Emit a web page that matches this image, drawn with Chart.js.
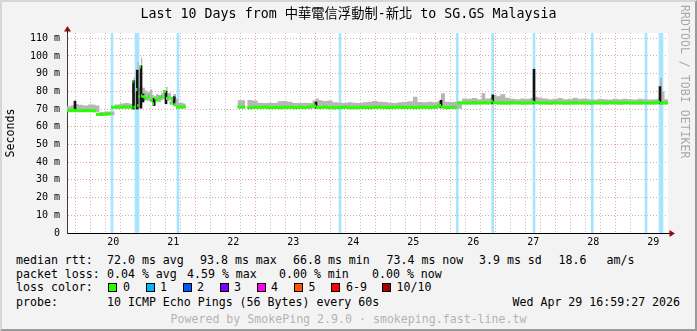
<!DOCTYPE html>
<html><head><meta charset="utf-8">
<script src="https://cdn.jsdelivr.net/npm/chart.js@4.4.1/dist/chart.umd.min.js"></script>
<style>
html,body{margin:0;padding:0;}
body{width:697px;height:331px;position:relative;overflow:hidden;background:#f3f3f3;font-family:'DejaVu Sans Mono',monospace;}
#frame{position:absolute;left:0;top:0;width:697px;height:331px;box-sizing:border-box;border-top:2px solid #d6d6d6;border-left:2px solid #d6d6d6;border-right:2px solid #9a9a9a;border-bottom:2px solid #9a9a9a;}
#wrap{position:absolute;left:0;top:0;width:697px;height:250px;}
.t{position:absolute;font-size:11.6px;line-height:14px;white-space:pre;color:#000;}
.box{position:absolute;top:283px;width:7px;height:7px;border:1px solid #000;}
#rrd{position:absolute;left:678px;top:5px;writing-mode:vertical-rl;font-size:11.6px;line-height:14px;color:#a8a8a8;white-space:pre;}
#ytitle{position:absolute;left:-30px;top:126px;width:80px;text-align:center;transform:rotate(-90deg);}
#foot{color:#b4b4b4;}
</style>
</head><body>
<div id="frame"></div>
<div id="wrap"><canvas id="c"></canvas></div>
<div id="rrd">RRDTOOL / TOBI OETIKER</div>
<div class="t" id="ytitle">Seconds</div>

<div class="t" style="left:16px;top:252.5px">median rtt:</div>
<div class="t" style="left:107px;top:252.5px">72.0 ms avg</div>
<div class="t" style="left:200px;top:252.5px">93.8 ms max</div>
<div class="t" style="left:293px;top:252.5px">66.8 ms min</div>
<div class="t" style="left:386.5px;top:252.5px">73.4 ms now</div>
<div class="t" style="left:479px;top:252.5px">3.9 ms sd</div>
<div class="t" style="left:558.5px;top:252.5px">18.6</div>
<div class="t" style="left:606.5px;top:252.5px">am/s</div>

<div class="t" style="left:16px;top:266.5px">packet loss:</div>
<div class="t" style="left:107px;top:266.5px">0.04 % avg</div>
<div class="t" style="left:187px;top:266.5px">4.59 % max</div>
<div class="t" style="left:279px;top:266.5px">0.00 % min</div>
<div class="t" style="left:372px;top:266.5px">0.00 % now</div>

<div class="t" style="left:16px;top:280px">loss color:</div>
<div class="box" style="left:108px;background:#26ff00"></div><div class="t" style="left:123px;top:280px">0</div>
<div class="box" style="left:145.5px;background:#00b8ff"></div><div class="t" style="left:160px;top:280px">1</div>
<div class="box" style="left:182.5px;background:#0059ff"></div><div class="t" style="left:197px;top:280px">2</div>
<div class="box" style="left:219.5px;background:#7e00ff"></div><div class="t" style="left:234px;top:280px">3</div>
<div class="box" style="left:256.5px;background:#ff00ea"></div><div class="t" style="left:271px;top:280px">4</div>
<div class="box" style="left:293.5px;background:#ff5500"></div><div class="t" style="left:308.5px;top:280px">5</div>
<div class="box" style="left:331px;background:#ff0000"></div><div class="t" style="left:346px;top:280px">6-9</div>
<div class="box" style="left:381.5px;background:#a10000"></div><div class="t" style="left:396.5px;top:280px">10/10</div>

<div class="t" style="left:16px;top:294.5px">probe:</div>
<div class="t" style="left:107px;top:294.5px">10 ICMP Echo Pings (56 Bytes) every 60s</div>
<div class="t" style="left:512.5px;top:294.5px">Wed Apr 29 16:59:27 2026</div>

<div class="t" id="foot" style="left:170.5px;top:311.5px">Powered by SmokePing 2.9.0 · smokeping.fast-line.tw</div>

<script>
// Hours counted from Apr 19 00:00 (local); each value covers the interval ending at its hour
const hours = [17.5,19.0,20.7,22.0,24.0,26.0,28.0,29.1,30.5,32.5,34.1,35.1,36.5,38.5,40.5,42.5,43.7,
  44.1,44.6,45.1,45.6,46.1,46.6,47.1,47.6,48.7,49.7,50.7,51.6,52.3,53.1,54.1,55.1,55.9,57.1,57.7,58.5,59.1,60.0,61.1,61.9,62.8,64.0,65.0,65.7,
  85.7,88.7,89.2,89.6,91.7,93.7,95.7,97.7,99.7,101.7,103.7,105.7,107.7,109.7,111.7,113.7,115.7,117.1,118.2,119.7,121.7,123.7,125.7,127.7,129.7,
  131.7,133.7,135.7,137.7,139.7,141.7,143.7,145.7,147.7,149.7,151.7,153.7,155.9,157.7,159.7,161.7,163.7,165.7,167.1,168.7,170.7,172.7,173.6,
  175.5,177.5,179.5,181.5,183.3,184.8,186.8,187.8,189.3,190.8,192.8,194.8,196.8,198.8,200.8,202.8,204.3,205.8,207.8,209.8,211.8,213.8,215.8,
  217.8,219.8,221.8,223.8,225.8,227.8,229.8,231.8,233.8,235.8,237.8,239.8,241.8,243.8,245.8,247.8,249.8,251.8,253.8,254.7,255.5,256.5,257.9];
const median = [69.2,69.0,69.4,69.0,69.0,69.2,69.0,69.0,67.0,67.0,67.2,67.3,71.0,71.2,71.0,71.2,71.0,
  85.5,71.0,71.2,81.0,72.0,77.0,93.8,77.5,77.0,76.0,77.2,75.0,73.0,76.2,75.2,76.5,77.0,80.0,76.0,76.5,73.5,76.0,72.5,71.0,71.5,71.0,71.3,null,
  71.0,71.2,null,71.0,70.8,71.0,70.9,71.2,70.8,70.9,70.7,71.0,71.1,70.8,71.0,70.9,71.3,71.8,71.0,70.9,71.2,70.8,70.7,70.9,71.0,
  70.8,70.7,71.1,70.9,70.8,71.0,71.1,70.9,70.8,71.0,71.1,70.9,71.0,70.8,71.0,71.1,70.9,71.2,72.0,71.0,70.9,71.0,71.0,
  73.6,73.5,73.4,73.6,73.5,73.6,73.5,74.5,73.6,73.5,73.4,73.5,73.6,73.4,73.5,73.4,74.0,73.6,73.5,73.4,73.5,73.6,73.4,
  73.5,73.4,73.6,73.5,73.4,73.5,73.6,73.4,73.5,73.6,73.4,73.5,73.6,73.5,73.4,73.6,73.5,73.4,73.6,74.0,73.2,73.6,73.5];
const smokeLow = [68.4,68.2,68.5,68.3,68.2,68.4,68.2,68.2,66.3,66.3,66.5,66.5,70.0,70.3,70.2,70.3,70.2,
  70.6,70.2,70.4,70.5,70.5,72.5,75.0,74.5,75.0,74.5,75.0,73.5,72.0,74.5,74.0,75.0,75.5,76.0,74.5,75.0,72.5,74.5,71.5,70.0,70.5,70.2,70.4,null,
  70.2,70.3,null,70.2,70.0,70.2,70.1,70.3,70.0,70.1,69.9,70.2,70.3,70.0,70.2,70.1,70.4,70.6,70.2,70.1,70.3,70.0,69.9,70.1,70.2,
  70.0,69.9,70.2,70.1,70.0,70.2,70.3,70.1,70.0,70.2,70.3,70.1,70.2,70.0,70.2,70.3,70.1,70.3,70.5,70.2,70.1,70.2,70.2,
  72.7,72.6,72.5,72.7,72.6,72.7,72.6,72.8,72.7,72.6,72.5,72.6,72.7,72.5,72.6,72.5,72.8,72.7,72.6,72.5,72.6,72.7,72.5,
  72.6,72.5,72.7,72.6,72.5,72.6,72.7,72.5,72.6,72.7,72.5,72.6,72.7,72.6,72.5,72.7,72.6,72.5,72.7,72.5,72.4,72.7,72.6];
const smokeHigh = [71.6,72.2,72.8,72.4,72.0,72.6,72.4,72.0,68.4,68.6,68.6,68.6,72.6,73.2,73.5,73.0,73.4,
  88.0,80.0,88.5,96.5,82.0,82.0,99.0,82.0,80.5,79.5,81.0,78.0,77.0,78.5,78.0,79.0,79.5,82.5,79.0,79.2,77.0,78.5,76.0,73.5,73.6,73.2,73.0,null,
  75.0,76.0,null,75.2,74.8,73.6,73.4,73.6,73.4,74.4,74.6,74.2,73.5,73.4,73.6,73.5,74.8,76.0,75.0,74.6,74.8,73.8,73.6,73.5,73.8,
  73.6,73.4,73.8,74.2,74.6,74.2,74.0,73.6,73.5,73.8,74.0,74.4,77.0,74.0,73.8,74.2,73.8,74.6,79.0,74.2,74.0,74.2,74.0,
  76.0,75.8,76.2,75.6,79.0,76.0,76.4,78.0,77.2,78.4,76.4,75.8,75.6,76.0,75.8,76.2,77.0,76.4,76.0,75.6,75.8,76.2,75.6,
  75.8,76.4,75.8,76.0,75.6,75.4,75.8,75.6,75.4,75.8,75.6,75.8,75.6,75.4,75.8,75.6,75.4,75.6,75.8,87.6,80.0,75.6,75.4];
// dark smoke spikes
const spikeHours = [20.7,44.1,45.6,47.1,47.9,52.3,57.1,60.4,117.1,167.1,187.8,204.3,254.7];
const spikeLow   = [69.0,70.0,70.0,70.5,74.0,72.0,73.0,72.5,70.5,71.0,73.0,73.0,73.0];
const spikeHigh  = [74.5,86.0,92.0,94.4,78.5,76.0,80.0,77.0,74.0,75.0,78.0,92.5,82.7];
// periods with packet loss (loss colour 1)
const lossHours = [35.5,45.1,45.9,61.9,126.7,173.6,187.8,204.3,227.6,249.1,254.7,255.5];
// axis labels
const dayLabels = ['20','21','22','23','24','25','26','27','28','29'];
const yUnit = ' m';

const Y_MAX = 113, X_MIN = 17.5, X_MAX = 257.9;
const MONO = "'DejaVu Sans Mono', monospace";
const majorGrid = 'rgba(222,110,110,0.65)';
const minorGrid = 'rgba(150,150,150,0.6)';

const frame = {
  id: 'frame',
  beforeDraw(chart) {
    const {ctx, chartArea: a} = chart;
    ctx.save();
    ctx.fillStyle = '#ffffff';
    ctx.fillRect(a.left, a.top, a.right - a.left, a.bottom - a.top);
    ctx.restore();
  },
  afterDraw(chart) {
    const {ctx, chartArea: a} = chart;
    ctx.save();
    ctx.strokeStyle = '#000';
    ctx.lineWidth = 1;
    ctx.beginPath();
    ctx.moveTo(a.right, Math.round(a.bottom) + 0.5);
    ctx.lineTo(a.right + 3, Math.round(a.bottom) + 0.5);
    ctx.moveTo(Math.round(a.left) + 0.5, a.top);
    ctx.lineTo(Math.round(a.left) + 0.5, a.top - 3);
    ctx.stroke();
    ctx.fillStyle = '#8b1111';
    const yx = Math.round(a.left) + 0.5, yt = a.top - 7;
    ctx.beginPath(); ctx.moveTo(yx, yt); ctx.lineTo(yx - 3.5, a.top - 1.5); ctx.lineTo(yx + 3.5, a.top - 1.5); ctx.closePath(); ctx.fill();
    const xy = Math.round(a.bottom) + 0.5, xr = a.right + 7;
    ctx.beginPath(); ctx.moveTo(xr, xy); ctx.lineTo(a.right + 1.5, xy - 3.5); ctx.lineTo(a.right + 1.5, xy + 3.5); ctx.closePath(); ctx.fill();
    ctx.restore();
  }
};

const pts = (ys) => hours.map((h, i) => ({x: h, y: ys[i]}));
// median drawn as separate horizontal dashes (one per interval), like SmokePing's stacked median band
const medianDashes = [];
for (let i = 1; i < hours.length; i++) {
  if (median[i] === null || median[i - 1] === null) continue;
  medianDashes.push({x: hours[i - 1], y: median[i]}, {x: hours[i], y: median[i]}, {x: hours[i], y: null});
}

new Chart(document.getElementById('c'), {
  type: 'line',
  data: {
    datasets: [
      {label: 'median', data: medianDashes, borderColor: '#26ff00', borderWidth: 3, pointRadius: 0, spanGaps: false, order: 0},
      {type: 'bar', label: 'spikes', data: spikeHours.map((h, i) => ({x: h, y: [spikeLow[i], spikeHigh[i]]})), backgroundColor: '#141414', barThickness: 2, grouped: false, order: 1},
      {label: 'smoke high', data: pts(smokeHigh), borderColor: 'rgba(0,0,0,0)', backgroundColor: '#b6b6b6', borderWidth: 1, stepped: true, pointRadius: 0, fill: '+1', spanGaps: false, order: 2},
      {label: 'smoke low', data: pts(smokeLow), borderColor: 'rgba(0,0,0,0)', borderWidth: 1, stepped: true, pointRadius: 0, fill: false, spanGaps: false, order: 3},
      {type: 'bar', label: 'loss', data: lossHours.map(h => ({x: h, y: [0, Y_MAX]})), backgroundColor: '#a6e4ff', barThickness: 2, grouped: false, order: 4}
    ]
  },
  options: {
    responsive: true, maintainAspectRatio: false, animation: false,
    events: [],
    layout: {padding: {left: 29, right: 29, top: 0, bottom: 0}},
    plugins: {
      legend: {display: false}, tooltip: {enabled: false},
      title: {display: true, text: 'Last 10 Days from 中華電信浮動制-新北 to SG.GS Malaysia', color: '#000',
        font: {family: "'DejaVu Sans Mono','Noto Sans CJK TC',monospace", size: 13.3, weight: 'normal'},
        padding: {top: 7, bottom: 10}}
    },
    scales: {
      x: {
        type: 'linear', min: X_MIN, max: X_MAX, offset: false,
        afterBuildTicks: (s) => { const t = []; for (let v = 18; v <= 252; v += 6) t.push({value: v}); s.ticks = t; },
        afterFit: (s) => { s.height = 17; },
        ticks: {autoSkip: false, maxRotation: 0, minRotation: 0, padding: 3, color: '#000', font: {family: MONO, size: 10},
          callback: (v) => (v % 24 === 12 && v >= 36) ? dayLabels[(v - 36) / 24] : ''},
        grid: {drawTicks: false, lineWidth: 1, color: (c) => (c.tick && c.tick.value % 24 === 0) ? majorGrid : minorGrid},
        border: {display: true, color: '#000', width: 1, dash: [1, 2]}
      },
      y: {
        type: 'linear', min: 0, max: Y_MAX,
        afterBuildTicks: (s) => { const t = []; for (let v = 0; v <= 110; v += 5) t.push({value: v}); s.ticks = t; },
        afterFit: (s) => { s.width = 38; },
        ticks: {padding: 7, color: '#000', font: {family: MONO, size: 10},
          callback: (v) => v % 10 === 0 ? (v === 0 ? '0' : v + yUnit) : ''},
        grid: {drawTicks: false, lineWidth: 1, color: (c) => (c.tick && c.tick.value % 10 === 0) ? majorGrid : minorGrid},
        border: {display: true, color: '#3a3a3a', width: 1, dash: [1, 2]}
      }
    }
  },
  plugins: [frame]
});
</script>
</body></html>
